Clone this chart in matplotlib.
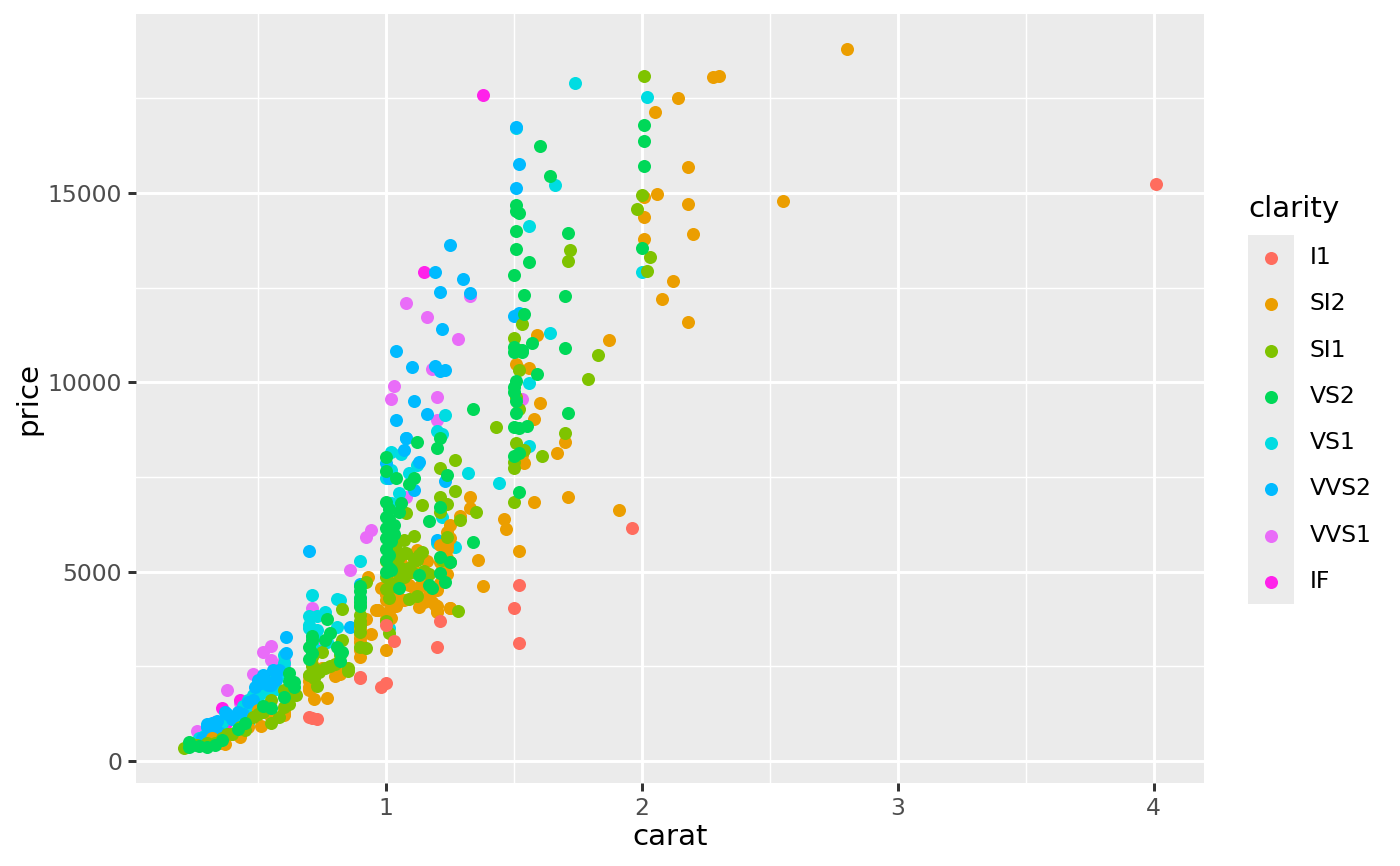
import matplotlib
matplotlib.use("Agg")
import matplotlib.pyplot as plt
from matplotlib.patches import Rectangle

i1_carat = [4.01,1.96,1.52,1.50,1.52,1.20,1.21,1.03,1.00,1.00,0.98,0.90,0.90,0.71,0.73,0.70]
i1_price = [15223,6150,4640,4040,3110,3010,3700,3170,3590,2050,1950,2220,2190,1130,1120,1150]

si2_carat = [2.80,2.30,2.28,2.14,2.05,2.06,2.01,2.18,2.18,2.55,2.01,2.20,2.01,2.12,2.08,2.18,1.87,1.59,1.56,1.51,1.52,1.60,1.58,1.70,1.67,1.54,1.53,1.52,1.71,1.58,1.91,1.46,1.47,1.52,1.33,1.33,1.36,1.38,1.29,1.25,1.24,1.25,1.24,1.24,1.24,1.25,1.20,1.20,0.93,0.96,1.12,1.06,1.16,1.09,1.13,1.20,1.21,0.98,1.01,1.01,1.00,0.97,1.02,1.03,1.07,1.13,1.15,1.19,1.20,1.25,1.02,1.00,1.00,0.90,0.90,0.90,0.92,0.90,0.94,0.90,0.70,0.70,0.72,0.77,0.80,0.80,0.50,0.51,0.54,0.60,0.60,0.43,0.35,0.37,0.70,0.70,1.00,1.03,1.04,1.08,1.11,1.14,1.17,
             0.32,0.40,0.46,0.55,0.60,0.71,0.71,0.75,0.82,0.90,0.90,1.00,1.00,1.05,1.08,1.10,1.14,1.17,1.05,1.22,1.21,1.21,1.24,1.02,1.18]
si2_price = [18790,18100,18050,17500,17130,14970,14900,15680,14720,14780,14360,13920,13780,12680,12190,11590,11110,11240,10380,10480,10350,9440,9030,8420,8130,7860,8070,8000,6970,6840,6640,6390,6120,5540,6970,6680,5310,4620,6470,6230,6050,5890,5700,5360,4940,4040,3960,4090,4860,3980,5570,5230,5270,4640,4600,4510,5250,4560,4430,4250,4260,3990,4040,4120,4250,4070,4200,4120,3940,4040,3780,3740,2930,2930,3150,3500,3740,3240,3350,3540,1960,1880,1630,1660,2240,2400,1350,930,1270,1210,1320,640,470,440,2240,2110,4400,4470,4100,4700,4350,4800,4300,
            600,700,900,1150,1250,2350,2550,2450,2300,2750,3350,3900,4400,4600,4900,5150,5000,4400,4300,5050,4700,5700,5600,4800,4200]

si1_carat = [2.01,2.00,1.98,2.03,2.02,1.72,1.71,1.83,1.79,1.70,1.43,1.50,1.50,1.61,1.53,1.50,1.52,1.52,1.51,1.54,1.50,1.35,1.29,1.27,1.27,1.21,1.21,1.24,1.21,1.14,1.08,1.11,1.07,1.04,1.24,1.14,1.11,1.25,1.15,1.10,1.05,1.07,1.00,1.02,1.00,1.12,1.09,1.28,1.01,0.92,0.90,0.90,0.92,0.83,0.83,0.85,1.02,1.05,0.85,0.73,0.70,0.76,0.73,0.71,0.75,0.65,0.62,0.60,0.60,0.55,0.52,0.55,0.45,0.40,0.30,0.21,1.06,1.08,1.13,1.03,1.00,0.90,0.90,
             0.24,0.26,0.33,0.36,0.38,0.43,0.48,0.50,0.58,0.62,0.72,0.71,0.74,0.78,0.80,0.82,0.90,0.90,1.00,1.01,1.04,1.07,1.03,1.09,1.12,1.17,1.22,1.52,1.51]
si1_price = [18090,14950,14570,13300,12930,13490,13200,10710,10100,8650,8810,7730,6840,8050,11530,11170,10850,10320,9600,8210,7900,6570,6360,7950,7130,7730,6970,6790,6580,6760,6550,5940,5840,5730,5920,5520,5330,5250,5020,4990,4960,4860,4860,4600,4550,4360,4280,3960,3380,2980,3860,4090,4730,4010,3190,2450,5490,5390,2380,1980,2270,2450,2400,2750,2890,1740,1790,1870,1420,1610,1300,1000,820,710,470,330,5100,5480,5450,5200,5280,3400,3600,
            450,430,480,600,700,900,1150,1250,1150,1500,2200,2500,2350,2500,2550,2800,3000,3700,3700,4300,4700,5500,5600,5100,5300,4950,5300,9300,8400]

vs2_carat = [2.01,2.01,2.01,2.00,1.60,1.64,1.51,1.51,1.52,1.51,1.51,1.56,1.71,1.50,1.70,1.54,1.54,1.57,1.70,1.50,1.53,1.53,1.59,1.51,1.50,1.50,1.51,1.71,1.34,1.50,1.52,1.55,1.52,1.50,1.52,1.34,1.12,1.20,1.21,1.00,1.24,1.04,1.11,1.09,1.00,1.05,1.06,1.21,1.00,1.03,1.00,1.17,1.01,1.01,1.02,1.13,1.21,1.25,1.21,1.23,1.17,1.18,1.05,0.90,0.90,0.83,0.90,0.90,0.71,0.77,0.82,0.82,0.78,0.64,0.62,0.62,0.30,0.23,0.23,0.36,1.00,1.01,1.00,1.01,0.70,0.70,
             0.27,0.33,0.42,0.45,0.52,0.55,0.60,0.64,0.71,0.71,0.76,0.81,0.90,1.00,1.00,1.00,1.02,1.01,1.03,1.51,1.50]
vs2_price = [16790,16370,15710,13540,16240,15450,14680,14530,14470,13990,13520,13170,13940,12830,12280,12300,11800,11040,10900,10930,10850,10800,10220,10030,9870,9740,9190,9190,9290,8810,8790,8840,8130,8050,7100,5780,8420,8260,8520,8030,7550,7470,7470,7310,6840,6570,6810,6710,6440,6230,6150,6340,5840,5440,5040,4910,5390,5250,4960,4730,4650,4570,4570,4620,4090,2880,4300,4200,3300,3750,2880,2640,3380,2090,2320,2100,370,370,500,550,7650,6400,5900,5100,3000,2700,
            400,420,850,1000,1450,1400,1700,1950,2850,3200,3200,3000,4500,5000,5300,5600,5800,6650,6000,9500,10800]

vs1_carat = [1.74,2.02,1.66,1.56,2.00,1.64,1.56,1.56,1.44,1.32,1.27,1.51,1.23,1.08,1.20,1.22,1.02,1.06,1.12,1.09,1.02,1.00,1.05,1.02,1.22,1.01,1.20,0.90,0.90,1.01,0.82,0.71,0.81,0.70,0.73,0.76,0.70,0.81,0.73,0.77,0.72,0.60,0.53,0.51,0.46,0.47,0.46,0.26,0.31,0.34,0.38,0.55,0.57,0.50,0.42,0.70,0.72,
             0.29,0.32,0.36,0.40,0.48,0.52,0.55,0.58,0.60,0.44,0.71,0.71,0.74,0.25,0.27]
vs1_price = [17900,17530,15210,14130,12900,11300,9980,8320,7340,7600,5650,16720,9130,8530,8710,8630,8160,8100,7820,7600,7680,7470,7080,6810,6440,5840,5760,5280,4300,3510,4250,4380,4280,3830,3830,3930,3500,3540,3450,3140,2930,2800,1930,1800,1610,1480,1000,500,900,800,700,2100,1900,1700,1150,3600,3300,
            650,800,1000,1150,1750,2000,1850,2300,2600,1450,3300,3100,2900,420,600]

vvs2_carat = [1.51,1.52,1.51,1.25,1.30,1.19,1.21,1.33,1.22,1.50,1.52,1.04,1.10,1.19,1.23,1.21,1.11,1.16,1.04,1.08,1.13,1.07,1.01,1.23,1.11,1.00,1.20,0.90,0.86,0.70,0.61,0.61,0.56,0.50,0.52,0.57,0.48,0.37,0.30,0.35,0.51,0.54,0.44,0.33,0.40,
              0.30,0.32,0.34,0.38,0.42,0.53,0.55,0.58,0.49,0.46,0.28,0.31]
vvs2_price = [16740,15760,15130,13620,12730,12910,12380,12350,11400,11750,11830,10820,10400,10430,10320,10290,9510,9160,9000,8530,7890,8210,7470,7390,7160,7870,5840,4680,3540,5540,3270,2850,2400,2140,2270,2140,1610,1290,980,740,2050,2000,1250,900,1100,
              900,1000,1050,1250,1300,2100,2000,2400,1950,1550,600,780]

vvs1_carat = [1.16,1.33,1.28,1.08,1.18,1.03,1.02,1.20,1.20,1.53,1.08,0.94,0.92,0.86,0.71,0.74,0.55,0.52,0.55,0.60,0.48,0.38,0.43,0.60,0.55,0.47,0.45,0.41,0.30,0.26,0.31,0.30,0.57,0.59,
              0.33,0.37,0.50,0.53,0.42,0.28]
vvs1_price = [11720,12270,11140,12090,10350,9900,9560,9610,9000,9560,6970,6100,5910,5040,4040,3120,3040,2880,2670,2510,2300,1870,1530,2670,2140,1290,1240,1130,770,790,690,640,2450,2400,
              1000,1080,1900,2200,1200,500]

if_carat = [1.38,1.15,0.36,0.43,0.33,0.37,0.34,0.35]
if_price = [17590,12910,1400,1610,1030,950,920,980]

clarity_levels = ["I1","SI2","SI1","VS2","VS1","VVS2","VVS1","IF"]
clarity_colors = ["#FF6C5E","#EB9E00","#7FC300","#00D858","#00DCE2","#00BAFF","#E96CF8","#FF22EA"]
all_carat = [i1_carat,si2_carat,si1_carat,vs2_carat,vs1_carat,vvs2_carat,vvs1_carat,if_carat]
all_price = [i1_price,si2_price,si1_price,vs2_price,vs1_price,vvs2_price,vvs1_price,if_price]
draw_rank = [9,6,7,8,4,5,2,3]

x_major = [1,2,3,4]
x_minor = [0.5,1.5,2.5,3.5]
y_major = [0,5000,10000,15000]
y_minor = [2500,7500,12500,17500]

plt.rcParams['font.family'] = ['DejaVu Sans']
W, H = 1400, 866
fig = plt.figure(figsize=(W/200, H/200), dpi=200, facecolor="white")
ax = fig.add_axes([136/W, 1-783/H, (1204-136)/W, (783-14)/H], facecolor="#EBEBEB")
ax.set_xlim(0.023, 4.197)
ax.set_ylim(-581, 19725)
for s in ax.spines.values():
    s.set_visible(False)
ax.set_xticks(x_major)
ax.set_xticks(x_minor, minor=True)
ax.set_yticks(y_major)
ax.set_yticks(y_minor, minor=True)
ax.set_xticklabels([str(v) for v in x_major])
ax.set_yticklabels([str(v) for v in y_major])
ax.grid(True, which="major", color="white", lw=1.07, zorder=0)
ax.grid(True, which="minor", color="white", lw=0.53, zorder=0)
ax.set_axisbelow(True)
ax.tick_params(which="major", length=2.75, width=1.07, color="#333333", labelcolor="#4D4D4D", labelsize=8.45, pad=2.2)
ax.tick_params(which="minor", length=0)
ax.set_xlabel("carat", fontsize=10.6, color="black", labelpad=1.2)
ax.set_ylabel("price", fontsize=10.6, color="black", labelpad=2.0)

handles = []
for name, col, xs, ys, rank in zip(clarity_levels, clarity_colors, all_carat, all_price, draw_rank):
    h = ax.scatter(xs, ys, s=22, color=col, linewidths=0, label=name, zorder=rank, clip_on=True)
    handles.append(h)

fig.add_artist(Rectangle((1248/W, 1-604/H), 46/W, 369/H, transform=fig.transFigure, facecolor="#EBEBEB", edgecolor="none", zorder=1))
leg = fig.legend(handles=handles, title="clarity", loc="upper left",
                 bbox_to_anchor=(1248/W, 1-195/H), bbox_transform=fig.transFigure,
                 frameon=False, fontsize=8.45, title_fontsize=10.6, borderpad=0, borderaxespad=0,
                 handlelength=1.96, handletextpad=0.68, labelspacing=0.99, alignment="left", scatterpoints=1)
leg.set_zorder(3)
leg.get_title().set_color("black")
fig.savefig("out.png", dpi=200, facecolor="white")
